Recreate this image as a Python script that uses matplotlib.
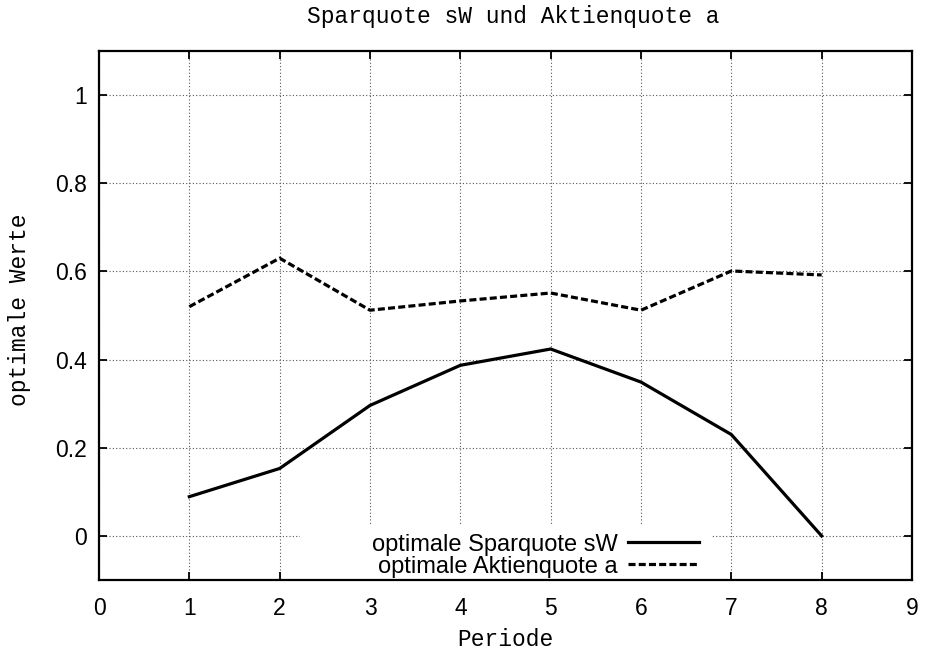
import matplotlib
matplotlib.use("Agg")
import matplotlib.pyplot as plt
from matplotlib.patches import Rectangle

periods = [1, 2, 3, 4, 5, 6, 7, 8]
sparquote = [0.089, 0.153, 0.296, 0.387, 0.424, 0.349, 0.230, 0.0]
aktienquote = [0.520, 0.630, 0.512, 0.533, 0.551, 0.512, 0.601, 0.592]
xticks = list(range(0, 10))
yticks = [0, 0.2, 0.4, 0.6, 0.8, 1.0]
ytick_labels = ["0", "0.2", "0.4", "0.6", "0.8", "1"]

sans = "Liberation Sans"
mono = "Liberation Mono"

fig = plt.figure(figsize=(9.26, 6.57), dpi=100)
ax = fig.add_axes([99/926, 1-580/657, (912-99)/926, (580-51)/657])

ax.plot(periods, sparquote, color="black", lw=2.3, solid_joinstyle="miter",
        label="optimale Sparquote sW", zorder=4)
ax.plot(periods, aktienquote, color="black", lw=2.3, dashes=(2.2, 1.0),
        label="optimale Aktienquote a", zorder=4)

ax.set_xlim(0, 9)
ax.set_ylim(-0.1, 1.1)
ax.set_xticks(xticks)
ax.set_xticklabels([str(t) for t in xticks], fontfamily=sans, fontsize=16.5)
ax.set_yticks(yticks)
ax.set_yticklabels(ytick_labels, fontfamily=sans, fontsize=16.5)
ax.tick_params(direction="in", length=6, width=1.3, top=True, right=True)
ax.tick_params(axis="x", pad=12)
ax.tick_params(axis="y", pad=9)
for s in ax.spines.values():
    s.set_linewidth(1.6)

ax.grid(True, color="#555555", linestyle=(0, (1, 2)), linewidth=0.8)
ax.set_axisbelow(True)

# key area cleared of grid lines (as gnuplot does)
ax.add_patch(Rectangle((0.247, 0.0), 0.754 - 0.247, 0.104, transform=ax.transAxes,
                       facecolor="white", edgecolor="none", zorder=2.5))

leg = ax.legend(loc="lower right", bbox_to_anchor=(0.741, 0.0), borderaxespad=0,
                markerfirst=False, frameon=False,
                prop={"family": sans, "size": 17}, handlelength=3.0,
                handletextpad=0.45, labelspacing=0.0, borderpad=0.1)
leg.set_zorder(3)

fig.text(513/926, 1-17/657, "Sparquote sW und Aktienquote a", fontfamily=mono,
         fontsize=16.5, ha="center", va="center")
fig.text(505/926, 1-640/657, "Periode", fontfamily=mono, fontsize=16.5,
         ha="center", va="center")
fig.text(20/926, 1-310/657, "optimale Werte", fontfamily=mono, fontsize=16.5,
         ha="center", va="center", rotation=90)

fig.savefig("out.png", dpi=100)
